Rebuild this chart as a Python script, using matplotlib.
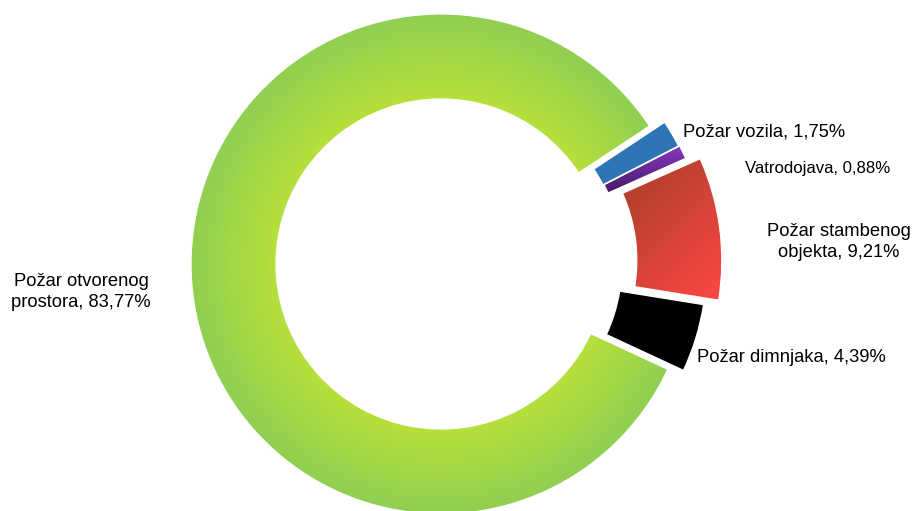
import numpy as np
import matplotlib
matplotlib.use("Agg")
import matplotlib.pyplot as plt
from matplotlib.colors import to_rgb

# ---- data ----
categories = ["Požar vozila", "Vatrodojava", "Požar stambenog objekta",
              "Požar dimnjaka", "Požar otvorenog prostora"]
values = [1.75, 0.88, 9.21, 4.39, 83.77]
label_texts = ["Požar vozila, 1,75%", "Vatrodojava, 0,88%",
               "Požar stambenog\nobjekta, 9,21%", "Požar dimnjaka, 4,39%",
               "Požar otvorenog\nprostora, 83,77%"]

# ---- layout / style ----
W, H = 916, 511
center = (451, H - 264 + 0.75)
R_out, ring = 250, 85
# offsets in axis units (pixels) -- pie() does not scale explode by radius here
explode = [6, 7, 21, 6, 10]

plt.rcParams['font.family'] = ['Liberation Sans', 'DejaVu Sans']

fig = plt.figure(figsize=(W / 100, H / 100), dpi=100)
ax = fig.add_axes([0, 0, 1, 1])

wedges, _ = ax.pie(values, explode=explode, startangle=33.5, counterclock=False,
                   center=center, radius=R_out, frame=True,
                   wedgeprops=dict(width=ring, edgecolor='white', linewidth=0.9))
ax.set_aspect('equal')
ax.axis('off')

X, Y = np.meshgrid(np.arange(W) + 0.5, np.arange(H) + 0.5)


def lerp(c1, c2, t):
    c1 = np.array(to_rgb(c1)); c2 = np.array(to_rgb(c2))
    t = np.clip(t, 0, 1)[..., None]
    return c1 * (1 - t) + c2 * t


def fill(wedge, img):
    wedge.set_facecolor('none')
    im = ax.imshow(img, extent=[0, W, 0, H], origin='lower',
                   interpolation='bilinear', zorder=wedge.get_zorder() - 0.01)
    im.set_clip_path(wedge)


# blue
wedges[0].set_facecolor('#2e75b6')
# purple: top light -> bottom dark
t = ((H - 150) - Y) / 40.0
fill(wedges[1], lerp('#8236b8', '#4a1b6c', t))
# red: top-left dark -> bottom-right bright
d = ((X - 620) - (Y - (H - 190))) / 210.0
fill(wedges[2], lerp('#b0402a', '#ff4646', d))
# black
wedges[3].set_facecolor('#000000')
# green radial
gx, gy = wedges[4].center
dist = np.hypot(X - gx, Y - gy)
fill(wedges[4], lerp('#b6e03a', '#90cf52', (dist - (R_out - ring)) / ring))

ax.set_xlim(0, W)
ax.set_ylim(0, H)

# ---- labels ----
fs = 13.2
ax.text(683, H - 136.7, label_texts[0], fontsize=fs, ha='left', va='baseline')
ax.text(745, H - 173.3, label_texts[1], fontsize=12.1, ha='left', va='baseline')
for i, line in enumerate(label_texts[2].split('\n')):
    ax.text(839, H - 236 - 21 * i, line, fontsize=fs, ha='center', va='baseline')
ax.text(697, H - 362, label_texts[3], fontsize=fs, ha='left', va='baseline')
for i, line in enumerate(label_texts[4].split('\n')):
    ax.text(81, H - 285.5 - 21 * i, line, fontsize=fs, ha='center', va='baseline')

fig.savefig('out.png', dpi=100)
